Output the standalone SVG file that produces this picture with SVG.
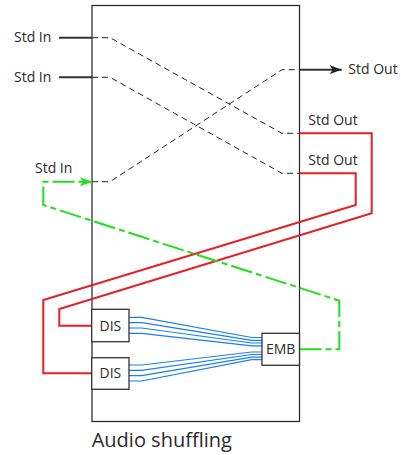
<svg xmlns="http://www.w3.org/2000/svg" width="401" height="455" viewBox="0 0 401 455">
<style>
text{font-family:"Open Sans","Liberation Sans",sans-serif;fill:#2b2b2b}
.lbl{font-size:14px}
.title{font-size:20px}
.box{fill:#fff;stroke:#333;stroke-width:1.3}
.dash{fill:none;stroke:#222;stroke-width:1;stroke-dasharray:6 4}
.solid{fill:none;stroke:#333;stroke-width:2}
.red{fill:none;stroke:#e81e25;stroke-width:2}
.green{fill:none;stroke:#1ee01e;stroke-width:2;stroke-dasharray:22 4 6 4}
.blue{fill:none;stroke:#1a7df0;stroke-width:1.2}
</style>
<defs>
<marker id="arrBlack" markerUnits="userSpaceOnUse" markerWidth="14" markerHeight="10" refX="12" refY="4.5" orient="auto">
<path d="M0,0 L12,4.5 L0,9 L3,4.5 z" fill="#222"/>
</marker>
<marker id="arrGreen" markerUnits="userSpaceOnUse" markerWidth="14" markerHeight="10" refX="12" refY="4.5" orient="auto">
<path d="M0,0 L12,4.5 L0,9 L3,4.5 z" fill="#1ee01e"/>
</marker>
</defs>
<g id="frame">
<rect x="92" y="5.5" width="207.5" height="416" fill="none" stroke="#222" stroke-width="1.2"/>
</g>
<g id="connectors">
<path class="solid" d="M59,37.7 H92"/>
<path class="solid" d="M59,77.3 H92"/>
<path class="dash" d="M92,37.7 H110 L282,133.3 H299.5"/>
<path class="dash" d="M92,77.3 H110 L282,173.3 H299.5"/>
<path class="dash" d="M92,181.7 H110 L282,69.7 H299.5"/>
<path class="solid" d="M299.5,69.7 H341.7" marker-end="url(#arrBlack)"/>
<path class="red" d="M299.5,133.3 H371.7 V213.3 L59.3,309 V325.7 H92"/>
<path class="red" d="M299.5,173.3 H355.7 V205 L43.3,300 V373.3 H92"/>
<path class="green" d="M299.5,349.3 H339.3 V300.7 L43.3,205 V181.7 H92" marker-end="url(#arrGreen)"/>
<path class="blue" d="M129,317.3 H141.7 L251.7,337.5 H262"/>
<path class="blue" d="M129,322.7 H141.7 L251.7,340.3 H262"/>
<path class="blue" d="M129,328 H141.7 L251.7,343 H262"/>
<path class="blue" d="M129,333.3 H141.7 L251.7,345.8 H262"/>
<path class="blue" d="M129,365 H141.7 L251.7,352 H262"/>
<path class="blue" d="M129,370.3 H141.7 L251.7,354.5 H262"/>
<path class="blue" d="M129,375.7 H141.7 L251.7,357.2 H262"/>
<path class="blue" d="M129,381 H141.7 L251.7,359.7 H262"/>
</g>
<g id="dis1">
<rect class="box" x="91.7" y="309.3" width="37.3" height="32.4"/>
<text class="lbl" x="110.4" y="330.7" text-anchor="middle">DIS</text>
</g>
<g id="dis2">
<rect class="box" x="91.7" y="357.7" width="37.3" height="31.6"/>
<text class="lbl" x="110.4" y="378.3" text-anchor="middle">DIS</text>
</g>
<g id="emb">
<rect class="box" x="262" y="333.3" width="37.5" height="32"/>
<text class="lbl" x="280.7" y="354.3" text-anchor="middle">EMB</text>
</g>
<g id="labels">
<text class="lbl" x="14" y="42">Std In</text>
<text class="lbl" x="14" y="81.7">Std In</text>
<text class="lbl" x="35" y="173.3">Std In</text>
<text class="lbl" x="348.3" y="74">Std Out</text>
<text class="lbl" x="308.3" y="125">Std Out</text>
<text class="lbl" x="308.3" y="165">Std Out</text>
<text class="title" x="91.7" y="447.3">Audio shuffling</text>
</g>
</svg>
